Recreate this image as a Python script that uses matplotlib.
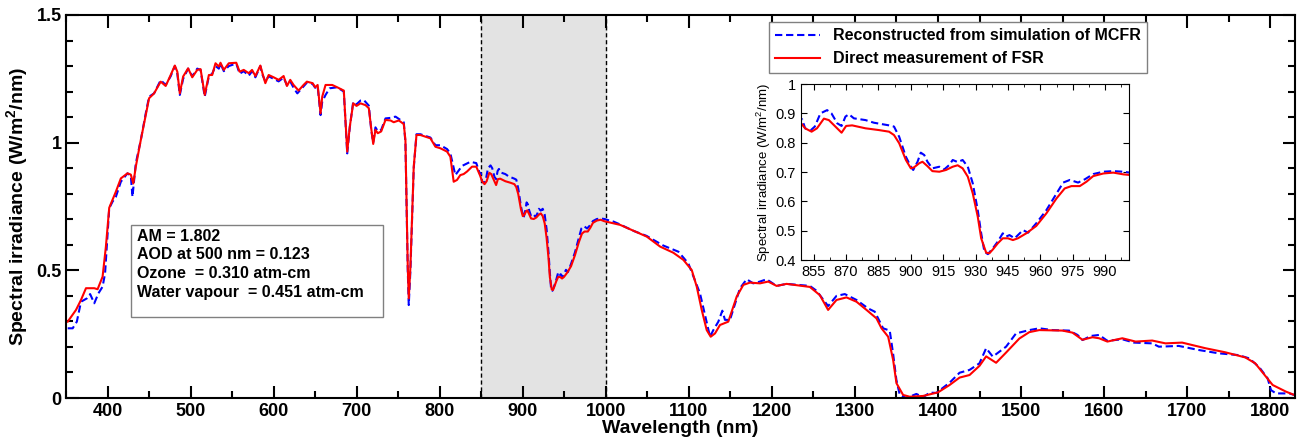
import numpy as np
import matplotlib.pyplot as plt
from matplotlib.patches import Rectangle
from matplotlib.ticker import MultipleLocator

plt.rcParams['font.family'] = ['Liberation Sans', 'DejaVu Sans']
plt.rcParams['mathtext.fontset'] = 'custom'
plt.rcParams['mathtext.rm'] = 'Liberation Sans'
plt.rcParams['mathtext.bf'] = 'Liberation Sans:bold'

# Direct measurement of FSR (red)
wl_fsr = [352, 362, 368, 374, 384, 388, 394, 398, 402, 410, 416, 424, 428, 431, 434,
          440, 446, 450, 456, 464, 470, 476, 481, 484, 487, 491, 497, 502, 508, 512,
          517, 522, 526, 530, 534, 536, 540, 546, 555, 559, 564, 570, 574, 578, 584,
          586, 590, 594, 600, 606, 612, 616, 620, 624, 630, 636, 640, 647, 650, 653,
          656.5, 658.5, 662.5, 670.5, 676.5, 684.5, 688.6, 691.7, 695.8, 699.8, 704.6,
          710.6, 714.6, 717.5, 719.9, 722.6, 725.4, 729.5, 734.7, 740.7, 744.6, 750.7,
          756.7, 758.7, 761.5, 762.7, 764.7, 768.7, 772, 776.7, 788.8, 794.8, 800.8,
          808.8, 812.8, 816.8, 820.8, 824.8, 828.8, 832.9, 838.9, 844, 848.5,
          851, 854, 856.5, 859.7, 862, 865, 867.9, 870, 872.8, 879, 885.2, 889.9,
          892.2, 894.6, 897.7, 900, 901.5, 903.9, 905.4, 907.7, 910, 913.2, 916.3,
          919.4, 921.7, 924, 926.4, 928.7, 931, 932.6, 934.9, 936.4, 938, 940.3,
          942.6, 945, 947.3, 949.6, 953.5, 958.1, 962.8, 967.5, 971.3, 974.4, 978.3,
          981.4, 984.5, 989.2, 993.8, 998.5, 1001.3,
          1017.3, 1033.3, 1049.4, 1065.4, 1081.3, 1093.4, 1103.5, 1109.5, 1115.5,
          1121.5, 1126.3, 1131.5, 1137.5, 1147.5, 1157.6, 1165.6, 1173.6, 1185.6,
          1195.6, 1205.7, 1217.7, 1245.7, 1257.7, 1267.7, 1277.8, 1289.8, 1301.9,
          1313.9, 1325.9, 1332, 1340, 1346, 1350, 1358, 1366, 1382, 1400, 1414, 1426,
          1438, 1450, 1458, 1470, 1482, 1498, 1510, 1522, 1550, 1562, 1574, 1586,
          1594, 1604, 1622, 1638, 1658, 1674, 1694, 1722, 1746, 1770, 1782, 1795,
          1803, 1819, 1829]
irr_fsr = [0.299, 0.345, 0.384, 0.43, 0.43, 0.426, 0.475, 0.593, 0.745, 0.808, 0.86,
           0.88, 0.875, 0.84, 0.906, 1.01, 1.108, 1.174, 1.193, 1.239, 1.222, 1.265,
           1.302, 1.278, 1.193, 1.259, 1.291, 1.256, 1.285, 1.288, 1.187, 1.265, 1.265,
           1.311, 1.298, 1.313, 1.285, 1.311, 1.313, 1.278, 1.285, 1.272, 1.285, 1.261,
           1.302, 1.278, 1.233, 1.265, 1.256, 1.246, 1.261, 1.222, 1.246, 1.226, 1.204,
           1.226, 1.239, 1.233, 1.217, 1.226, 1.115, 1.18, 1.226, 1.226, 1.217, 1.204,
           0.965, 1.063, 1.154, 1.144, 1.154, 1.147, 1.135, 1.056, 0.995, 1.05, 1.037,
           1.044, 1.089, 1.087, 1.08, 1.087, 1.073, 1.01, 0.514, 0.39, 0.514, 0.906,
           1.03, 1.03, 1.017, 0.984, 0.978, 0.965, 0.945, 0.847, 0.854, 0.873, 0.877,
           0.887, 0.906, 0.906, 0.872,
           0.849, 0.8375, 0.849, 0.882, 0.877, 0.855, 0.834, 0.857, 0.859, 0.849,
           0.843, 0.8375, 0.826, 0.798, 0.741, 0.7125, 0.716, 0.73, 0.735, 0.72,
           0.703, 0.701, 0.707, 0.718, 0.723, 0.7125, 0.684, 0.627, 0.548, 0.474,
           0.425, 0.423, 0.436, 0.457, 0.474, 0.474, 0.468, 0.474, 0.491, 0.516,
           0.559, 0.61, 0.644, 0.652, 0.652, 0.667, 0.686, 0.695, 0.698, 0.692, 0.69,
           0.678, 0.655, 0.632, 0.593, 0.569, 0.541, 0.501, 0.436, 0.345, 0.266, 0.24,
           0.253, 0.286, 0.299, 0.397, 0.443, 0.452, 0.449, 0.456, 0.439, 0.447, 0.435,
           0.403, 0.345, 0.384, 0.394, 0.377, 0.345, 0.312, 0.273, 0.24, 0.149, 0.058,
           0.012, 0.005, 0.008, 0.022, 0.051, 0.08, 0.09, 0.126, 0.163, 0.138, 0.178,
           0.233, 0.258, 0.266, 0.264, 0.256, 0.228, 0.238, 0.234, 0.221, 0.234,
           0.221, 0.225, 0.214, 0.217, 0.195, 0.179, 0.159, 0.136, 0.083, 0.051,
           0.025, 0.012]

# Reconstructed from simulation of MCFR (blue)
wl_mcfr = [352, 358, 363, 368, 375, 379, 384, 389, 394, 397, 402, 406, 410, 416, 424,
           428, 430, 434, 440, 446, 450, 456, 464, 470, 476, 481, 484, 487, 491, 497,
           502, 508, 512, 517, 522, 526, 530, 534, 536, 540, 546, 555, 559, 564, 570,
           574, 578, 584, 586, 590, 594, 600, 606, 612, 616, 620, 624, 628.5, 636, 640,
           647, 650, 653, 656.5, 658.5, 662.5, 667.5, 676.5, 684.5, 688.6, 691.7, 695.8,
           699.8, 704.6, 708.6, 714.6, 717.5, 719.9, 722.6, 725.4, 729.5, 734.7, 740.7,
           746.7, 750.7, 756.7, 758.7, 761.5, 762.7, 764.7, 768.7, 772, 776.7, 788.8,
           794.8, 800.8, 808.8, 812.8, 818.8, 826.9, 836.9, 844, 848.5, 849.6,
           851, 853.4, 855.5, 858.1, 861.2, 863.2, 865.9, 867.9, 869.7, 871.3, 873.6,
           879, 882.9, 886, 889.9, 892.2, 894.6, 897.7, 900, 901.1, 903.1, 904.6,
           906.2, 907.7, 910, 913.2, 915.5, 917.8, 919.4, 921.7, 924, 926.4, 928.7,
           931, 932.6, 934.1, 935.7, 938, 940.3, 942.6, 944.2, 945.7, 948.1, 952,
           954.3, 958.1, 962.8, 967.5, 970.6, 973.7, 977.5, 980.6, 984.5, 989.2,
           993.8, 998.5, 1001.3,
           1009.2, 1017, 1033, 1049, 1069.3, 1087.4, 1099.4, 1113.4, 1125.5, 1129.5,
           1135.5, 1140.3, 1143.5, 1149.5, 1161.6, 1169.6, 1177.5, 1185.6, 1193.6,
           1205.7, 1217.7, 1245.7, 1253.8, 1267.7, 1277.8, 1287.8, 1301.9, 1315.8,
           1323.9, 1333.9, 1341.9, 1345.9, 1349.9, 1354, 1362, 1374, 1382, 1390, 1398,
           1414, 1426, 1438, 1450, 1458, 1466, 1482, 1494, 1510, 1522, 1538, 1558,
           1568, 1574, 1584, 1594, 1604, 1622, 1636, 1658, 1666, 1690, 1714, 1738,
           1762, 1775, 1787, 1797, 1801, 1807, 1823, 1829]
irr_mcfr = [0.273, 0.273, 0.299, 0.377, 0.39, 0.407, 0.371, 0.41, 0.436, 0.488, 0.743,
            0.769, 0.788, 0.847, 0.88, 0.87, 0.788, 0.919, 1.01, 1.115, 1.18, 1.193,
            1.245, 1.226, 1.26, 1.3, 1.27, 1.187, 1.25, 1.29, 1.26, 1.29, 1.285, 1.18,
            1.26, 1.27, 1.3, 1.29, 1.31, 1.28, 1.3, 1.31, 1.27, 1.28, 1.262, 1.28,
            1.256, 1.3, 1.27, 1.24, 1.26, 1.25, 1.24, 1.255, 1.225, 1.24, 1.215, 1.193,
            1.22, 1.235, 1.23, 1.215, 1.22, 1.108, 1.16, 1.187, 1.213, 1.217, 1.2,
            0.958, 1.06, 1.16, 1.15, 1.165, 1.167, 1.145, 1.05, 1.0, 1.06, 1.045, 1.05,
            1.095, 1.097, 1.102, 1.093, 1.08, 1.0, 0.5, 0.364, 0.5, 0.9, 1.033, 1.033,
            1.02, 0.99, 0.99, 0.975, 0.958, 0.873, 0.909, 0.925, 0.92, 0.877, 0.88,
            0.849, 0.841, 0.855, 0.9, 0.911, 0.9, 0.866, 0.857, 0.889, 0.897, 0.883,
            0.877, 0.868, 0.864, 0.859, 0.855, 0.82, 0.752, 0.718, 0.707, 0.735, 0.766,
            0.758, 0.735, 0.7125, 0.718, 0.709, 0.724, 0.741, 0.734, 0.741, 0.718,
            0.661, 0.57, 0.491, 0.428, 0.42, 0.44, 0.463, 0.491, 0.48, 0.485, 0.474,
            0.502, 0.493, 0.525, 0.57, 0.627, 0.664, 0.673, 0.664, 0.675, 0.693, 0.701,
            0.703, 0.701, 0.698,
            0.691, 0.68, 0.655, 0.635, 0.597, 0.573, 0.527, 0.41, 0.24, 0.266, 0.299,
            0.342, 0.306, 0.306, 0.43, 0.465, 0.449, 0.456, 0.465, 0.439, 0.447, 0.439,
            0.42, 0.36, 0.4, 0.407, 0.384, 0.351, 0.338, 0.273, 0.264, 0.175, 0.071,
            0.012, 0.0, 0.016, 0.003, 0.021, 0.02, 0.06, 0.099, 0.11, 0.136, 0.195,
            0.162, 0.201, 0.253, 0.266, 0.273, 0.266, 0.264, 0.247, 0.227, 0.243,
            0.247, 0.224, 0.23, 0.217, 0.214, 0.201, 0.204, 0.188, 0.175, 0.168, 0.155,
            0.12, 0.077, 0.031, 0.018, 0.018, 0.012]

params_text = ['AM = 1.802', 'AOD at 500 nm = 0.123', 'Ozone  = 0.310 atm-cm',
               'Water vapour  = 0.451 atm-cm']

fig = plt.figure(figsize=(13, 4.45), dpi=100)
ax = fig.add_axes([0.0508, 0.1056, 0.9454, 0.8607])

ax.axvspan(850, 1000, color='#e3e3e3', zorder=0)
ax.axvline(850, color='k', ls=(0, (3, 2)), lw=1, zorder=1)
ax.axvline(1000, color='k', ls=(0, (3, 2)), lw=1, zorder=1)

ax.plot(wl_mcfr, irr_mcfr, ls=(0, (3.5, 1.8)), color='#0000ff', lw=1.5,
        label='Reconstructed from simulation of MCFR')
ax.plot(wl_fsr, irr_fsr, '-', color='#ff0000', lw=1.5,
        label='Direct measurement of FSR')

ax.set_xlim(350, 1830)
ax.set_ylim(0, 1.5)
ax.xaxis.set_major_locator(MultipleLocator(100))
ax.xaxis.set_minor_locator(MultipleLocator(50))
ax.set_yticks([0, 0.5, 1, 1.5])
ax.set_yticklabels(['0', '0.5', '1', '1.5'])
ax.yaxis.set_minor_locator(MultipleLocator(0.1))
ax.tick_params(which='both', direction='in', top=True, right=True, width=1.5,
               labelsize=13)
ax.tick_params(which='major', length=9)
ax.tick_params(which='minor', length=5)
ax.tick_params(axis='y', pad=3)
for lab in ax.get_xticklabels() + ax.get_yticklabels():
    lab.set_fontweight('bold')
for sp in ax.spines.values():
    sp.set_linewidth(1.5)

ax.set_xlabel('Wavelength (nm)', fontsize=14, fontweight='bold', labelpad=0)
ax.set_ylabel(r'Spectral irradiance (W/m$^{\mathbf{2}}$/nm)', fontsize=14,
              fontweight='bold', labelpad=4)

leg = ax.legend(loc='upper left', bbox_to_anchor=(0.572, 0.982), fancybox=False,
                edgecolor='#808080', framealpha=1, handlelength=2.8,
                borderaxespad=0, prop={'weight': 'bold', 'size': 11.5})
leg.get_frame().set_linewidth(1)

ax.add_patch(Rectangle((0.0529, 0.2115), 0.205, 0.240, transform=ax.transAxes,
                       facecolor='white', edgecolor='#808080', lw=1, zorder=3))
for i, s in enumerate(params_text):
    ax.text(0.0575, 0.4225 - i * 0.0488, s, transform=ax.transAxes, fontsize=11.5,
            fontweight='bold', va='center', zorder=4)

# inset: zoom on 850-1000 nm
axin = fig.add_axes([0.616, 0.4157, 0.2523, 0.3955])
axin.plot(wl_mcfr, irr_mcfr, ls=(0, (3.5, 1.8)), color='#0000ff', lw=1.5)
axin.plot(wl_fsr, irr_fsr, '-', color='#ff0000', lw=1.5)
axin.set_xlim(849, 1001)
axin.set_ylim(0.4, 1)
axin.set_xticks(np.arange(855, 1000, 15))
axin.xaxis.set_minor_locator(MultipleLocator(7.5))
axin.set_yticks([0.4, 0.5, 0.6, 0.7, 0.8, 0.9, 1])
axin.set_yticklabels(['0.4', '0.5', '0.6', '0.7', '0.8', '0.9', '1'])
axin.tick_params(which='both', direction='in', top=True, right=True, labelsize=10.5)
axin.tick_params(which='major', length=4)
axin.tick_params(which='minor', length=2.5)
axin.set_ylabel(r'Spectral irradiance (W/m$^2$/nm)', fontsize=9.5, labelpad=2)

fig.savefig('out.png', dpi=100)
